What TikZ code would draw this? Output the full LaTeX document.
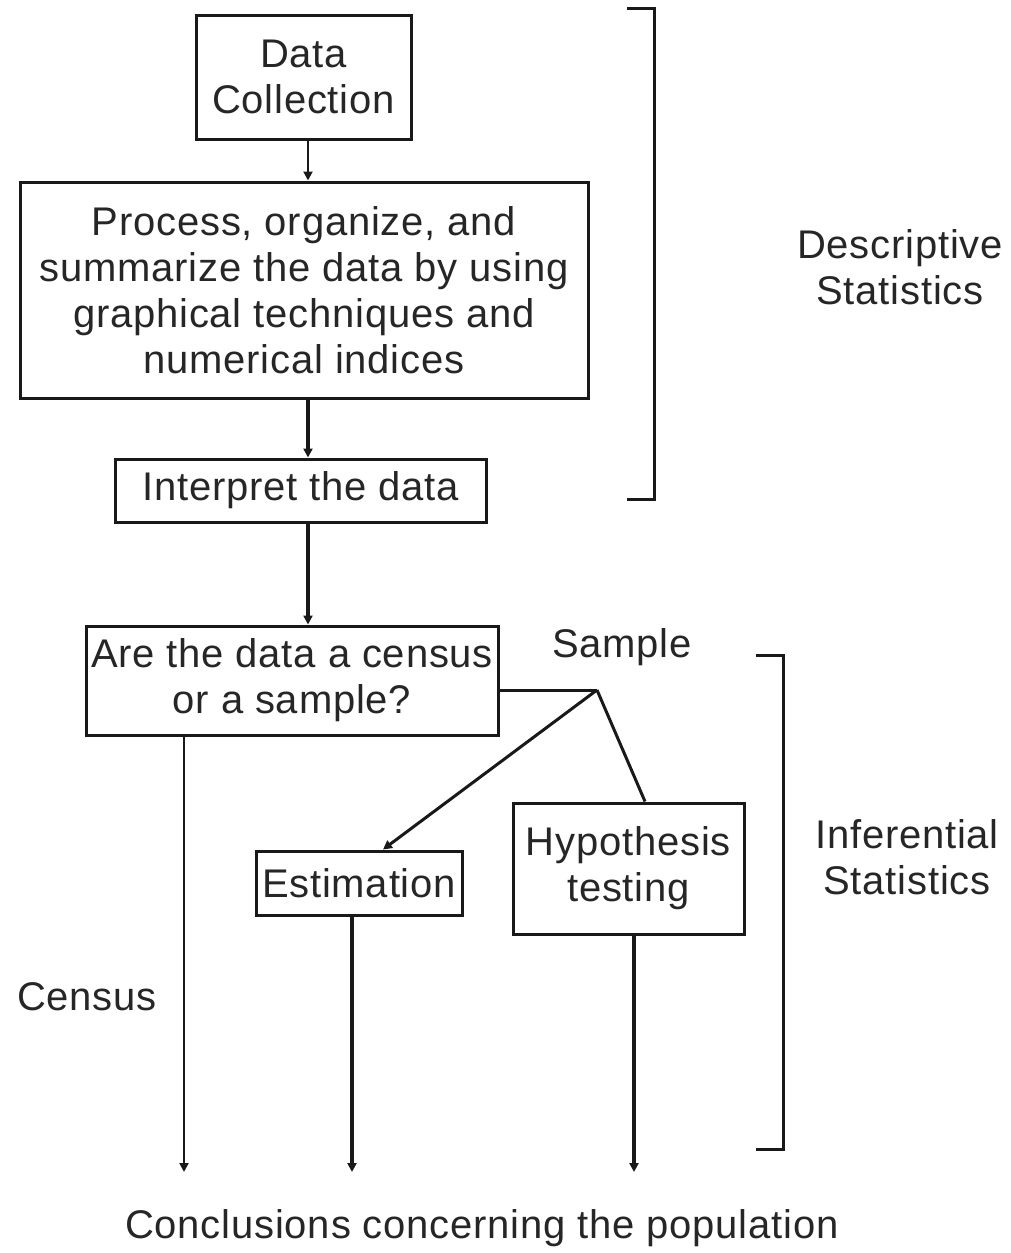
\documentclass[tikz,border=0pt]{standalone}
\usepackage{fontspec}
\setmainfont{Liberation Sans}[LetterSpace=2.0]
\usetikzlibrary{arrows.meta}
\begin{document}
\begin{tikzpicture}[x=1pt,y=-1pt,
  every node/.style={font=\fontsize{40}{46}\selectfont, text=black!85},
  boxn/.style={draw=black!90, line width=3pt, rectangle, inner sep=0pt, align=center},
  lbl/.style={align=center, inner sep=0pt},
  thinline/.style={draw=black!90, line width=2pt},
  thickline/.style={draw=black!90, line width=4.5pt},
  tip/.style={-{Triangle[length=9pt,width=9pt]}},
  brk/.style={draw=black!90, line width=3pt}
]
\useasboundingbox (0,0) rectangle (1010,1253);

\node[boxn, minimum width=215pt, minimum height=124pt] (dc) at (303.5,77) {Data\\Collection};
\node[boxn, minimum width=568pt, minimum height=216pt] (proc) at (304,290) {Process, organize, and\\summarize the data by using\\graphical techniques and\\numerical indices};
\node[boxn, minimum width=371pt, minimum height=63pt] (interp) at (300.5,490.5) {Interpret the data};
\node[boxn, minimum width=412pt, minimum height=109pt] (cens) at (292,680.5) {Are the data a census\\or a sample?};
\node[boxn, minimum width=206pt, minimum height=64pt] (est) at (359,883) {Estimation};
\node[boxn, minimum width=231pt, minimum height=131pt] (hyp) at (628.5,868.5) {Hypothesis\\testing};

\node[lbl] (samp) at (622,647) {Sample};
\node[lbl] (census) at (87,997) {Census};
\node[lbl] (concl) at (482,1228) {Conclusions concerning the population};
\node[lbl] (desc) at (900,267) {Descriptive\\Statistics};
\node[lbl] (infer) at (907,857) {Inferential\\Statistics};

\coordinate (j) at (597,690);
\coordinate (ec) at (184,1172);
\coordinate (ee) at (352,1172);
\coordinate (eh) at (634,1172);

% vertical flow
\draw[thinline, tip] ([xshift=4.5pt]dc.south) -- ([xshift=4.5pt]dc.south |- proc.north);
\draw[thickline, tip] ([xshift=4pt]proc.south) -- ([xshift=4pt]proc.south |- interp.north);
\draw[thickline, tip] ([xshift=7.5pt]interp.south) -- ([xshift=7.5pt]interp.south |- cens.north);

% sample branch
\draw[thinline, line width=3pt] (j -| cens.east) -- (j);
\draw[thinline, line width=3pt, tip] (j) -- ([xshift=24pt]est.north);
\draw[thinline, line width=3pt] (j) -- ([xshift=16.5pt]hyp.north);

% to conclusions
\draw[thinline, tip] (ec |- cens.south) -- (ec);
\draw[thickline, tip] (ee |- est.south) -- (ee);
\draw[thickline, tip] (eh |- hyp.south) -- (eh);

% brackets
\draw[brk] (627,8) -- (654,8) -- (654,499) -- (627,499);
\draw[brk] (756,655) -- (783,655) -- (783,1149) -- (756,1149);
\end{tikzpicture}
\end{document}
